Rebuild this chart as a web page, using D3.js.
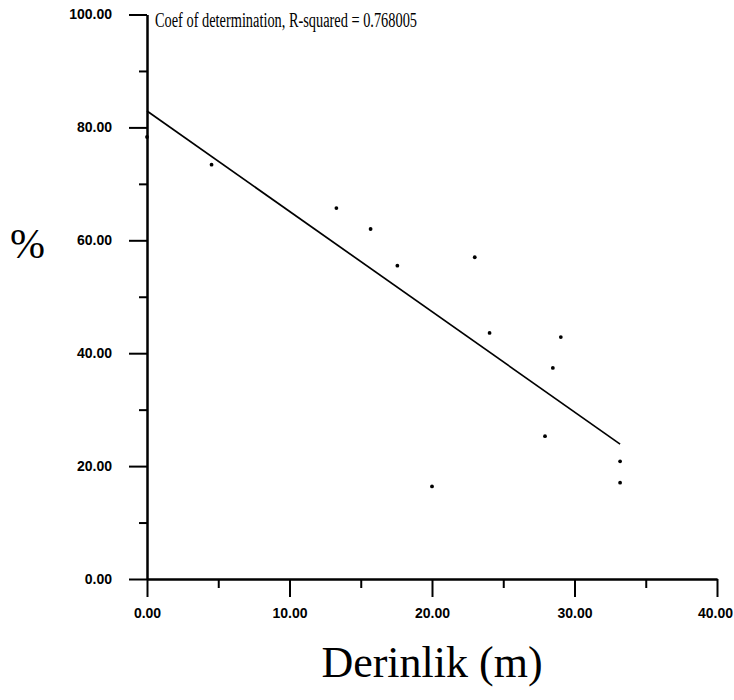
<!DOCTYPE html>
<html>
<head>
<meta charset="utf-8">
<script src="https://cdn.jsdelivr.net/npm/d3@7"></script>
<style>
  body { margin: 0; background: #fff; }
  .tick text { font-family: "Liberation Sans", Arial, sans-serif; font-weight: bold; font-size: 14px; }
</style>
</head>
<body>
<div id="holder"></div>
<script>
// depth (m) and % values
var depth = [0, 4.53, 13.29, 15.69, 17.57, 23.0, 24.04, 29.04, 28.48, 27.93, 33.2, 33.2, 20.0];
var percent = [78.3, 73.4, 65.7, 62.0, 55.5, 57.0, 43.6, 42.85, 37.4, 25.3, 20.85, 17.06, 16.4];

// fitted line end points
var fitX = [0, 33.2];
var fitY = [82.9, 23.9];

var xMajor = [0, 10, 20, 30, 40];
var xMinor = [5, 15, 25, 35];
var yMajor = [0, 20, 40, 60, 80, 100];
var yMinor = [10, 30, 50, 70, 90];

var title = "Coef of determination, R-squared = 0.768005";
var xTitle = "Derinlik (m)";
var yTitle = "%";

var fullWidth = 734;
var fullHeight = 700;
var margin = {top: 14.5, right: 17, bottom: 121, left: 147};

var serif = '"Liberation Serif", "DejaVu Serif", "Times New Roman", serif';

var svg = d3.select('#holder').append('svg')
  .attr('width', fullWidth)
  .attr('height', fullHeight)
  .style('background', '#fff');

var xScale = d3.scaleLinear()
  .domain([0, 40])
  .range([margin.left, fullWidth - margin.right]);

var yScale = d3.scaleLinear()
  .domain([0, 100])
  .range([fullHeight - margin.bottom, margin.top]);

var fmt = d3.format('.2f');

// x axis, majors then minors
var gx = svg.append('g')
  .attr('transform', 'translate(0,' + yScale(0) + ')')
  .call(d3.axisBottom(xScale).tickValues(xMajor).tickFormat(fmt)
    .tickSize(18).tickSizeOuter(0).tickPadding(11));
svg.append('g')
  .attr('transform', 'translate(0,' + yScale(0) + ')')
  .call(d3.axisBottom(xScale).tickValues(xMinor).tickFormat('')
    .tickSize(9).tickSizeOuter(0));

// last label sits right at the edge
gx.selectAll('.tick text')
  .filter(function(d) { return d == 40; })
  .attr('dx', -2);

// y axis
var gy = svg.append('g')
  .attr('transform', 'translate(' + xScale(0) + ',0)')
  .call(d3.axisLeft(yScale).tickValues(yMajor).tickFormat(fmt)
    .tickSize(18).tickSizeOuter(0).tickPadding(17));
svg.append('g')
  .attr('transform', 'translate(' + xScale(0) + ',0)')
  .call(d3.axisLeft(yScale).tickValues(yMinor).tickFormat('')
    .tickSize(8).tickSizeOuter(0));

svg.selectAll('.domain, .tick line')
  .attr('stroke', '#000')
  .attr('stroke-width', 2);
svg.selectAll('.tick text').attr('fill', '#000');

// regression line
var line = d3.line()
  .x(function(d) { return xScale(d[0]); })
  .y(function(d) { return yScale(d[1]); });

svg.append('path')
  .datum(d3.zip(fitX, fitY))
  .attr('d', line)
  .attr('fill', 'none')
  .attr('stroke', '#000')
  .attr('stroke-width', 1.7);

// points
svg.append('g').selectAll('circle')
  .data(d3.zip(depth, percent))
  .enter().append('circle')
  .attr('cx', function(d) { return xScale(d[0]); })
  .attr('cy', function(d) { return yScale(d[1]); })
  .attr('r', 1.9)
  .attr('fill', '#000');

// texts
svg.append('text')
  .attr('x', 155)
  .attr('y', 27)
  .attr('textLength', 262)
  .attr('lengthAdjust', 'spacingAndGlyphs')
  .style('font-family', serif)
  .style('font-size', '20px')
  .text(title);

svg.append('text')
  .attr('x', 10)
  .attr('y', 258)
  .style('font-family', serif)
  .style('font-size', '42px')
  .text(yTitle);

svg.append('text')
  .attr('x', (xScale(0) + xScale(40)) / 2)
  .attr('y', 677)
  .attr('text-anchor', 'middle')
  .style('font-family', serif)
  .style('font-size', '44px')
  .text(xTitle);
</script>
</body>
</html>
